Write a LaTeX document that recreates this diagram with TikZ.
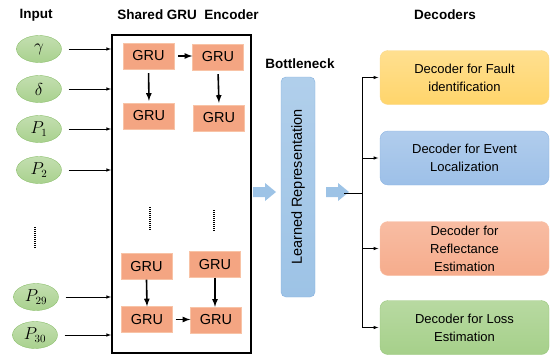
\documentclass[tikz,border=0pt]{standalone}
\usepackage{fontspec}
\setmainfont{Liberation Sans}
\usepackage{amsmath}
\usepackage{tikz}
\usetikzlibrary{arrows,positioning,shapes}
\usetikzlibrary{calc}

\definecolor{inGreen}{HTML}{A9D18E}
\definecolor{inGreenD}{HTML}{8CBF6C}
\definecolor{gruFill}{HTML}{F4A582}
\definecolor{gruLine}{HTML}{F8C3A6}
\definecolor{bnBlue}{HTML}{9DC3E6}
\definecolor{bnBlueD}{HTML}{86B1DF}
\definecolor{decYellow}{HTML}{FFD56B}
\definecolor{decYellowD}{HTML}{F9D78A}
\definecolor{decBlue}{HTML}{9DC0E8}
\definecolor{decBlueD}{HTML}{8DB4E2}
\definecolor{decRed}{HTML}{F6AC8C}
\definecolor{decRedD}{HTML}{F8C0A4}
\definecolor{decGreen}{HTML}{A6D08A}
\definecolor{decGreenD}{HTML}{98C67C}

\begin{document}
\begin{tikzpicture}[x=1pt,y=-1pt,
  title/.style={font=\fontsize{13.5}{16}\selectfont\bfseries},
  input/.style={ellipse,draw=inGreenD,top color=inGreen!70,bottom color=inGreen,
    minimum width=45pt,minimum height=27pt,inner sep=0pt,font=\fontsize{16}{18}\selectfont},
  gru/.style={draw=gruLine,fill=gruFill,minimum width=51pt,minimum height=26pt,
    inner sep=0pt,font=\fontsize{14.5}{16}\selectfont},
  encoder/.style={draw,line width=2pt,minimum width=139pt,minimum height=318pt},
  bottleneck/.style={draw=bnBlueD,rounded corners=5pt,top color=bnBlue!80,bottom color=bnBlue,
    rotate=90,minimum width=220pt,minimum height=34pt,font=\fontsize{14.5}{17}\selectfont},
  decoder/.style={rounded corners=8pt,minimum width=169pt,minimum height=54pt,
    align=center,font=\fontsize{13}{18}\selectfont},
  to/.style={->,>=latex,semithick},
  link/.style={->,>=latex,line width=1.6pt},
  vdots/.style={line width=1.3pt,dash pattern=on 1pt off 1pt},
  flow/.style={fill=bnBlue}]

    \useasboundingbox (0,0) rectangle (551,356);

    % titles
    \node[title] (tin) at (36,15) {Input};
    \node[title] (tenc) at (188,15) {Shared GRU\ \ Encoder};
    \node[title] (tbn) at (300,64) {Bottleneck};
    \node[title] (tdec) at (445,15) {Decoders};

    % encoder
    \node[encoder] (enc) at (181.5,194) {};

    \node[gru] (a1) at (148.5,56) {GRU};
    \node[gru] (a2) at (218,57) {GRU};
    \node[gru] (b1) at (149,116) {GRU};
    \node[gru] (b2) at (219,118) {GRU};
    \node[gru] (c1) at (146.5,266.5) {GRU};
    \node[gru] (c2) at (215,264.5) {GRU};
    \node[gru] (e1) at (147,319.5) {GRU};
    \node[gru] (e2) at (216,320) {GRU};

    \draw[link,shorten <=4pt] (a1.east) -- (a1.east -| a2.west);
    \draw[link,shorten <=4pt,shorten >=2pt] (a1.south) -- (b1.north);
    \draw[link,shorten <=4pt,shorten >=2pt] (a2.south) -- (b2.north);
    \draw[link] (c1.south) -- (e1.north);
    \draw[link] (c2.south) -- (c2.south |- e2.north);
    \draw[link,shorten <=3pt] (e1.east) -- (e1.east -| e2.west);

    \draw[vdots] (150,207) -- (150,230);
    \draw[vdots] (214,210) -- (214,232);

    % inputs
    \node[input] (g) at (39,49) {$\gamma$};
    \node[input] (d) at (39,89) {$\delta$};
    \node[input] (p1) at (39,129) {$P_1$};
    \node[input] (p2) at (39,170) {$P_2$};
    \node[input] (p29) at (36,297) {$P_{29}$};
    \node[input] (p30) at (35,335) {$P_{30}$};

    \draw[vdots] (35,227) -- (35,248);

    \foreach \i in {g,d,p1,p2,p29,p30}
        \draw[to] ([xshift=7pt]\i.east) -- (\i.east -| enc.west);

    % bottleneck
    \node[bottleneck] (lr) at (298,187) {Learned Representation};

    \foreach \x in {253,326}
        \fill[flow] (\x,187) -- ++(12,0) -- ++(0,-4) -- ++(11,9) -- ++(-11,9)
            -- ++(0,-4) -- ++(-12,0) -- cycle;

    % decoders
    \node[decoder,draw=decYellowD,top color=decYellow!75,bottom color=decYellow] (d1) at (464.5,77.5)
        {Decoder for Fault\\identification};
    \node[decoder,draw=decBlueD,top color=decBlue!80,bottom color=decBlue] (d2) at (464.5,158)
        {Decoder for Event\\Localization};
    \node[decoder,draw=decRedD,top color=decRed!80,bottom color=decRed] (d3) at (464.5,248.5)
        {Decoder for\\Reflectance\\Estimation};
    \node[decoder,draw=decGreenD,top color=decGreen!80,bottom color=decGreen] (d4) at (464.5,327.5)
        {Decoder for Loss\\Estimation};

    \coordinate (out) at (344,193);
    \coordinate (jn) at (362,193);
    \draw[thick] (out) -- (jn);
    \foreach \k in {d1,d2,d3,d4}
        \draw[to,shorten >=1.5pt] (jn) |- (\k.west);
\end{tikzpicture}
\end{document}
